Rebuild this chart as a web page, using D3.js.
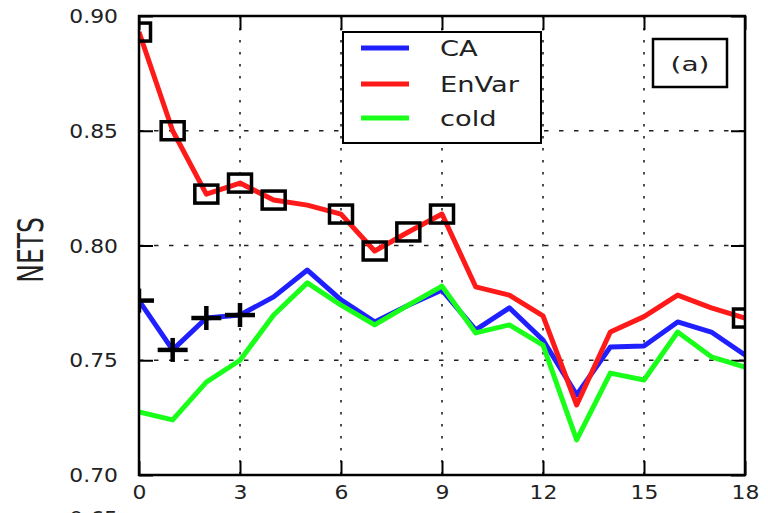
<!DOCTYPE html>
<html><head><meta charset="utf-8">
<script src="https://cdn.jsdelivr.net/npm/d3@7"></script>
<style>body{margin:0;background:#fff}svg{display:block}text{font-family:"DejaVu Sans",sans-serif}</style>
</head><body>
<svg id="c" width="768" height="513"></svg>
<script>
const steps = d3.range(0, 19);
const caValues = [0.776,0.7545,0.7684,0.7697,0.7776,0.7893,0.7763,0.7667,0.774,0.7806,0.7632,0.7728,0.7588,0.7349,0.7558,0.7562,0.7667,0.7623,0.7523];
const envarValues = [0.893,0.850,0.8224,0.8272,0.8198,0.8176,0.8137,0.7976,0.8059,0.8137,0.782,0.7784,0.7693,0.7305,0.7623,0.769,0.7784,0.7728,0.7684];
const coldValues = [0.7275,0.724,0.7405,0.75,0.7697,0.7837,0.774,0.7654,0.774,0.7823,0.7619,0.7654,0.7566,0.7153,0.7444,0.7414,0.7623,0.7515,0.747];
const envarSquareSteps = [0,1,2,3,4,6,7,8,9,18];
const caPlusSteps = [0,1,2,3];
const xTicks = [0,3,6,9,12,15,18];
const yTicks = [0.70,0.75,0.80,0.85,0.90];
const seriesNames = ["CA","EnVar","cold"];
const seriesColors = ["#2020ff","#ff1a1a","#1aff1a"];

const svg = d3.select("#c");
const L=139, R=745, T=16, B=475;
const x = d3.scaleLinear().domain([0,18]).range([L,R]);
const y = d3.scaleLinear().domain([0.70,0.90]).range([B,T]);
const SX = 1.15;

svg.append("defs").append("clipPath").attr("id","clip")
  .append("rect").attr("x",L).attr("y",T).attr("width",R-L).attr("height",B-T);

// grid
const grid = svg.append("g").attr("clip-path","url(#clip)");
grid.selectAll(".vg").data(xTicks.slice(1,-1)).join("line")
  .attr("x1",d=>x(d)).attr("x2",d=>x(d)).attr("y1",T).attr("y2",B)
  .attr("stroke","#222").attr("stroke-width",1.6).attr("stroke-dasharray","2.5,9.5");
grid.selectAll(".hg").data(yTicks.slice(1,-1)).join("line")
  .attr("y1",d=>y(d)).attr("y2",d=>y(d)).attr("x1",L).attr("x2",R)
  .attr("stroke","#222").attr("stroke-width",1.4).attr("stroke-dasharray","4.5,10.5");

// axes ticks (inward)
function styleAxis(g){ g.select(".domain").remove(); g.selectAll(".tick line").attr("stroke","#000").attr("stroke-width",2); }
const xb = svg.append("g").attr("transform",`translate(0,${B})`)
  .call(d3.axisBottom(x).tickValues(xTicks).tickSize(-14).tickSizeOuter(0).tickPadding(11).tickFormat(d3.format("d")));
styleAxis(xb);
xb.selectAll("text").attr("font-size",19).attr("fill","#222").attr("transform",`scale(${SX},1)`);
const yl = svg.append("g").attr("transform",`translate(${L},0)`)
  .call(d3.axisLeft(y).tickValues(yTicks).tickSize(-14).tickSizeOuter(0).tickFormat(d3.format(".2f")));
styleAxis(yl);
yl.selectAll("text").attr("font-size",19).attr("fill","#222").attr("x",-21/SX).attr("dy","0.35em").attr("transform",`scale(${SX},1)`);
const xt = svg.append("g").attr("transform",`translate(0,${T})`)
  .call(d3.axisTop(x).tickValues(xTicks).tickSize(-14).tickSizeOuter(0).tickFormat(""));
styleAxis(xt);
const yr = svg.append("g").attr("transform",`translate(${R},0)`)
  .call(d3.axisRight(y).tickValues(yTicks).tickSize(-14).tickSizeOuter(0).tickFormat(""));
styleAxis(yr);

// partial label from panel below
svg.append("text").attr("transform",`translate(118,525) scale(${SX},1)`).attr("text-anchor","end")
  .attr("font-size",19).attr("fill","#222").text("0.65");

// lines
const plot = svg.append("g").attr("clip-path","url(#clip)");
const allSeries = [caValues, envarValues, coldValues];
const line = d3.line().x((d,i)=>x(steps[i])).y(d=>y(d));
allSeries.forEach((vals,k)=>{
  plot.append("path").datum(vals).attr("d",line).attr("fill","none")
    .attr("stroke",seriesColors[k]).attr("stroke-width",5).attr("stroke-linejoin","round");
});
// markers
plot.selectAll(".sq").data(envarSquareSteps).join("rect")
  .attr("x",d=>x(d)-11.5).attr("y",d=>y(envarValues[d])-9)
  .attr("width",23).attr("height",18).attr("fill","none").attr("stroke","#000").attr("stroke-width",3.5);
const plus = plot.selectAll(".pl").data(caPlusSteps).join("g")
  .attr("transform",d=>`translate(${x(d)},${y(caValues[d])})`);
plus.append("line").attr("x1",-15).attr("x2",15).attr("y1",0).attr("y2",0).attr("stroke","#000").attr("stroke-width",4.5);
plus.append("line").attr("x1",0).attr("x2",0).attr("y1",-12).attr("y2",12).attr("stroke","#000").attr("stroke-width",4.5);

// frame
svg.append("rect").attr("x",L).attr("y",T).attr("width",R-L).attr("height",B-T)
  .attr("fill","none").attr("stroke","#000").attr("stroke-width",2.5);

// y label
svg.append("text").attr("transform","translate(43,250) scale(1.4,1) rotate(-90)")
  .attr("text-anchor","middle").attr("font-size",25).attr("fill","#222").text("NETS");

// legend
const lg = svg.append("g");
lg.append("rect").attr("x",343).attr("y",32).attr("width",198).attr("height",111)
  .attr("fill","#fff").attr("stroke","#000").attr("stroke-width",2);
const rowY = [48,84,118];
seriesNames.forEach((n,k)=>{
  lg.append("line").attr("x1",361).attr("x2",409).attr("y1",rowY[k]).attr("y2",rowY[k])
    .attr("stroke",seriesColors[k]).attr("stroke-width",5);
  lg.append("text").attr("transform",`translate(440,${rowY[k]+8}) scale(1.3,1)`)
    .attr("font-size",21).attr("fill","#222").text(n);
});

// panel tag
svg.append("rect").attr("x",653).attr("y",39).attr("width",74).attr("height",48)
  .attr("fill","#fff").attr("stroke","#000").attr("stroke-width",2.5);
svg.append("text").attr("transform","translate(690,71) scale(1.4,1)").attr("text-anchor","middle")
  .attr("font-size",20).attr("fill","#222").text("(a)");
</script>
</body></html>
